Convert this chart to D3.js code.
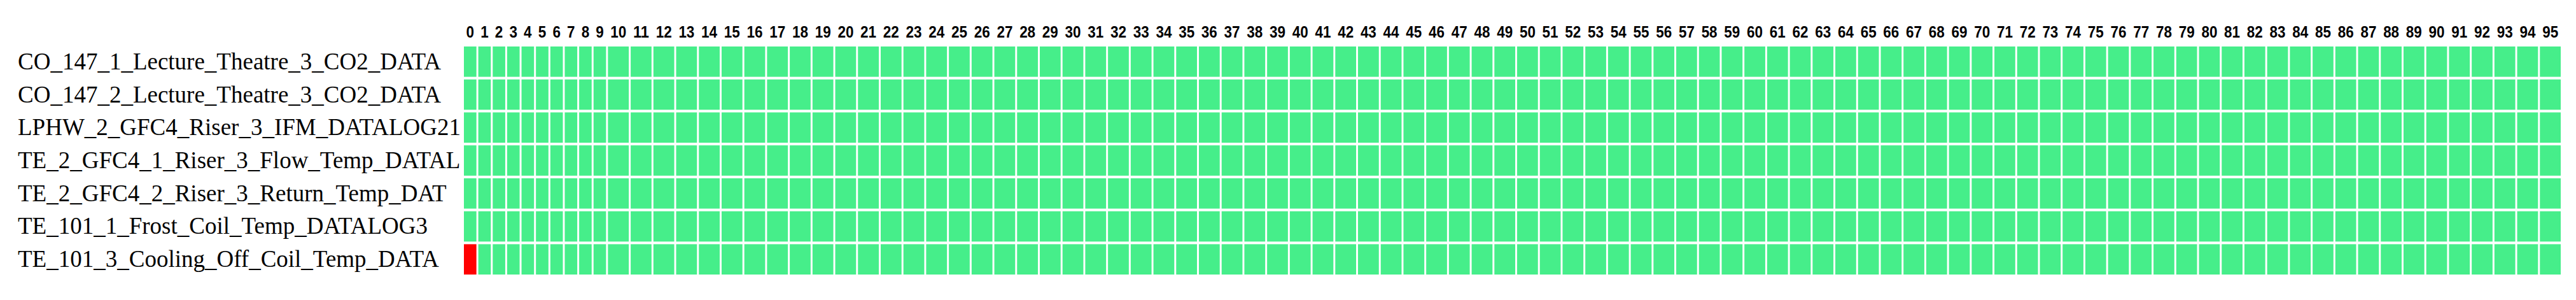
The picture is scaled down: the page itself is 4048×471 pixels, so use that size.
<!DOCTYPE html>
<meta charset="utf-8">
<style>
body { margin: 0; background: #fff; }
.collabel { font: bold 25px "Liberation Sans Narrow", "Arial Narrow", "Liberation Sans", sans-serif; text-anchor: middle; }
.rowlabel { font: 37px "Liberation Serif", "Times New Roman", serif; }
</style>
<body>
<svg width="4048" height="471"></svg>
<script src="https://cdn.jsdelivr.net/npm/d3@7/dist/d3.min.js"></script>
<script>

var rowNames = [
  "CO_147_1_Lecture_Theatre_3_CO2_DATA",
  "CO_147_2_Lecture_Theatre_3_CO2_DATA",
  "LPHW_2_GFC4_Riser_3_IFM_DATALOG21",
  "TE_2_GFC4_1_Riser_3_Flow_Temp_DATAL",
  "TE_2_GFC4_2_Riser_3_Return_Temp_DAT",
  "TE_101_1_Frost_Coil_Temp_DATALOG3",
  "TE_101_3_Cooling_Off_Coil_Temp_DATA"
];

var columns = d3.range(96).map(String);

// 1 = alarm (red), 0 = ok (green), one digit per column 0..95
var status = [
  "000000100111011100000001010000100101111111111111111111111111111111111111111111111111111111111111",
  "111111111111111111111101111111111111111111111111111111111111111111111111111111111111111111111111",
  "000000000000000000000000000000001001000000111001010100101101111001001000000100000000000000000000",
  "000000000000000000000000000000000111111111111111111111111111111111111000000000000000000000000000",
  "000000000000000000000000000000000011111111111111111111111111111111111111111111110000000000000000",
  "000000000000000000000000000000000000000000000011111011111111111111111100000000000000000000000000",
  "000000000000000000000000000000000000000000000000000000000000011111111111111000000000000000000000"
];

var colors = ["#46ee8a", "#ff0000"];

var svg = d3.select("svg");

// column pitch follows the width of its label
var pitch = columns.map(function(c){ return c.length * 13 + 9.5; });
var starts = [0];
pitch.forEach(function(p, i){ starts.push(starts[i] + p); });
var x = d3.scaleLinear().domain([0, starts[starts.length - 1]]).range([729, 4027]);

var y = d3.scaleBand().domain(rowNames).range([73, 431]).paddingInner(0.08).paddingOuter(0);

svg.append("g").selectAll("text")
  .data(columns)
  .enter().append("text")
  .attr("class", "collabel")
  .attr("x", function(d, i){ return (x(starts[i]) + x(starts[i + 1]) - 3) / 2; })
  .attr("y", 59)
  .attr("textLength", function(d){ return d.length * 12.5; })
  .attr("lengthAdjust", "spacingAndGlyphs")
  .text(function(d){ return d; });

svg.append("g").selectAll("text")
  .data(rowNames)
  .enter().append("text")
  .attr("class", "rowlabel")
  .attr("x", 28)
  .attr("y", function(d){ return y(d) + y.bandwidth() / 2 + 12; })
  .text(function(d){ return d; });

var cells = [];
rowNames.forEach(function(name, r){
  for (var c = 0; c < columns.length; c++) {
    cells.push({ row: name, col: c, v: +status[r].charAt(c) });
  }
});

svg.append("g").selectAll("rect")
  .data(cells)
  .enter().append("rect")
  .attr("x", function(d){ return x(starts[d.col]); })
  .attr("y", function(d){ return y(d.row); })
  .attr("width", function(d){ return x(starts[d.col + 1]) - x(starts[d.col]) - 3; })
  .attr("height", y.bandwidth())
  .attr("fill", function(d){ return colors[d.v]; });

</script>
